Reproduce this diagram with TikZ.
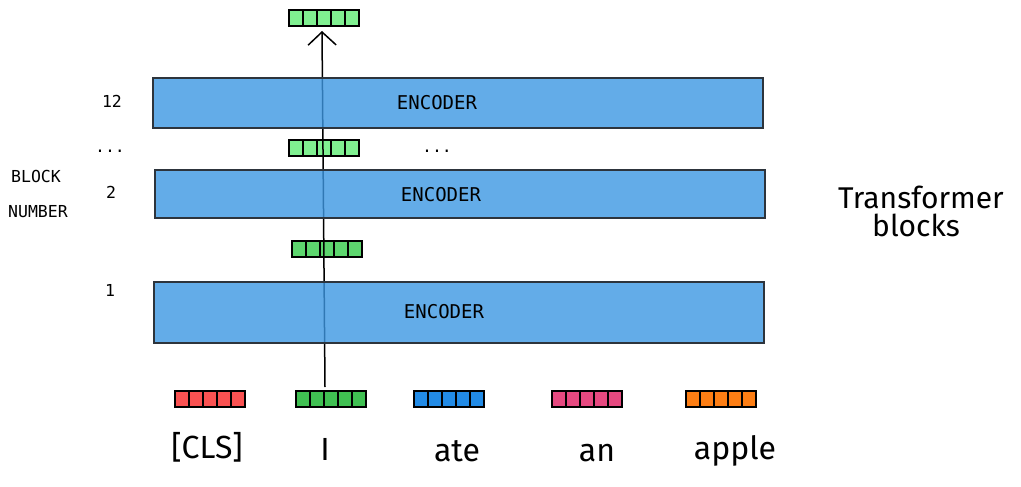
\documentclass[tikz,border=0pt]{standalone}
\usepackage{fontspec}
\setmainfont{Fira Sans}
\newfontfamily\monofont{DejaVu Sans Mono}
\newfontfamily\handfont{Fira Sans}
\usetikzlibrary{arrows.meta}
\definecolor{encfill}{RGB}{60,151,226}
\definecolor{encdraw}{RGB}{45,52,60}
\definecolor{vlight}{RGB}{128,240,145}
\definecolor{vmid}{RGB}{93,214,110}
\definecolor{vgreen}{RGB}{64,192,82}
\definecolor{vred}{RGB}{250,82,82}
\definecolor{vblue}{RGB}{34,139,230}
\definecolor{vpink}{RGB}{230,73,128}
\definecolor{vorange}{RGB}{253,126,20}
\tikzset{
  encbox/.style={draw=encdraw, line width=1.6pt, fill=encfill, fill opacity=0.8, inner sep=0pt, minimum width=610pt},
  enctext/.style={font=\monofont\fontsize{19}{22}\selectfont, inner sep=0pt},
  numtext/.style={font=\monofont\fontsize{16.5}{18}\selectfont, inner sep=0pt},
  vecbox/.style={draw=black, line width=1.3pt, inner sep=0pt, minimum width=70pt, minimum height=16pt},
  vecline/.style={draw=black, line width=1.3pt},
  wordtext/.style={font=\handfont\fontsize{32}{36}\selectfont, inner sep=0pt},
  arrowline/.style={draw=black, line width=1.5pt, -{Straight Barb[length=13pt,width=28pt,line width=1.5pt]}}
}
\newcommand\tokvec[4]{%
  \node[vecbox, fill=#4] (#1) at (#2+35,#3+8) {};
  \foreach \i in {1,...,4} {\draw[vecline] (#2+14*\i,#3) -- (#2+14*\i,#3+16);}
}
\begin{document}
\begin{tikzpicture}[x=1pt,y=-1pt]
\useasboundingbox (0,0) rectangle (1021,487);
% vectors
\tokvec{vtop}{289}{10}{vlight}
\tokvec{vup}{289}{140}{vlight}
\tokvec{vlow}{292}{241}{vmid}
\tokvec{vcls}{175}{391}{vred}
\tokvec{vI}{296}{391}{vgreen}
\tokvec{vate}{414}{391}{vblue}
\tokvec{van}{552}{391}{vpink}
\tokvec{vapple}{686}{391}{vorange}
% arrow
\coordinate (astart) at (325,387);
\coordinate (aend) at (322,31);
\draw[arrowline] (astart) -- (aend);
% encoders
\node[encbox, minimum height=50pt] (enc12) at (458,103) {};
\node[encbox, minimum height=48pt] (enc2) at (460,194) {};
\node[encbox, minimum height=61pt] (enc1) at (459,312.5) {};
\node[enctext] (t12) at (437,103) {ENCODER};
\node[enctext] (t2) at (441,195) {ENCODER};
\node[enctext] (t1) at (444,312) {ENCODER};
\node[numtext] (dots) at (437,151) {...};
% block numbers
\node[numtext] (n12) at (112,101) {12};
\node[numtext] (ndots) at (110,151) {...};
\node[numtext] (n2) at (111,192) {2};
\node[numtext] (n1) at (110,290) {1};
\node[numtext] (block) at (36,176) {BLOCK};
\node[numtext] (number) at (38,212) {NUMBER};
% words
\node[wordtext] (wcls) at (207,447) {[CLS]};
\node[wordtext] (wI) at (325,449) {I};
\node[wordtext] (wate) at (457,451) {ate};
\node[wordtext] (wan) at (597,453) {an};
\node[wordtext] (wapple) at (735,451) {apple};
\node[wordtext, font=\handfont\fontsize{30}{32}\selectfont, align=left, anchor=north west] (tb) at (838,186) {Transformer\\[-4pt]\hspace*{34pt}blocks};
\end{tikzpicture}
\end{document}
